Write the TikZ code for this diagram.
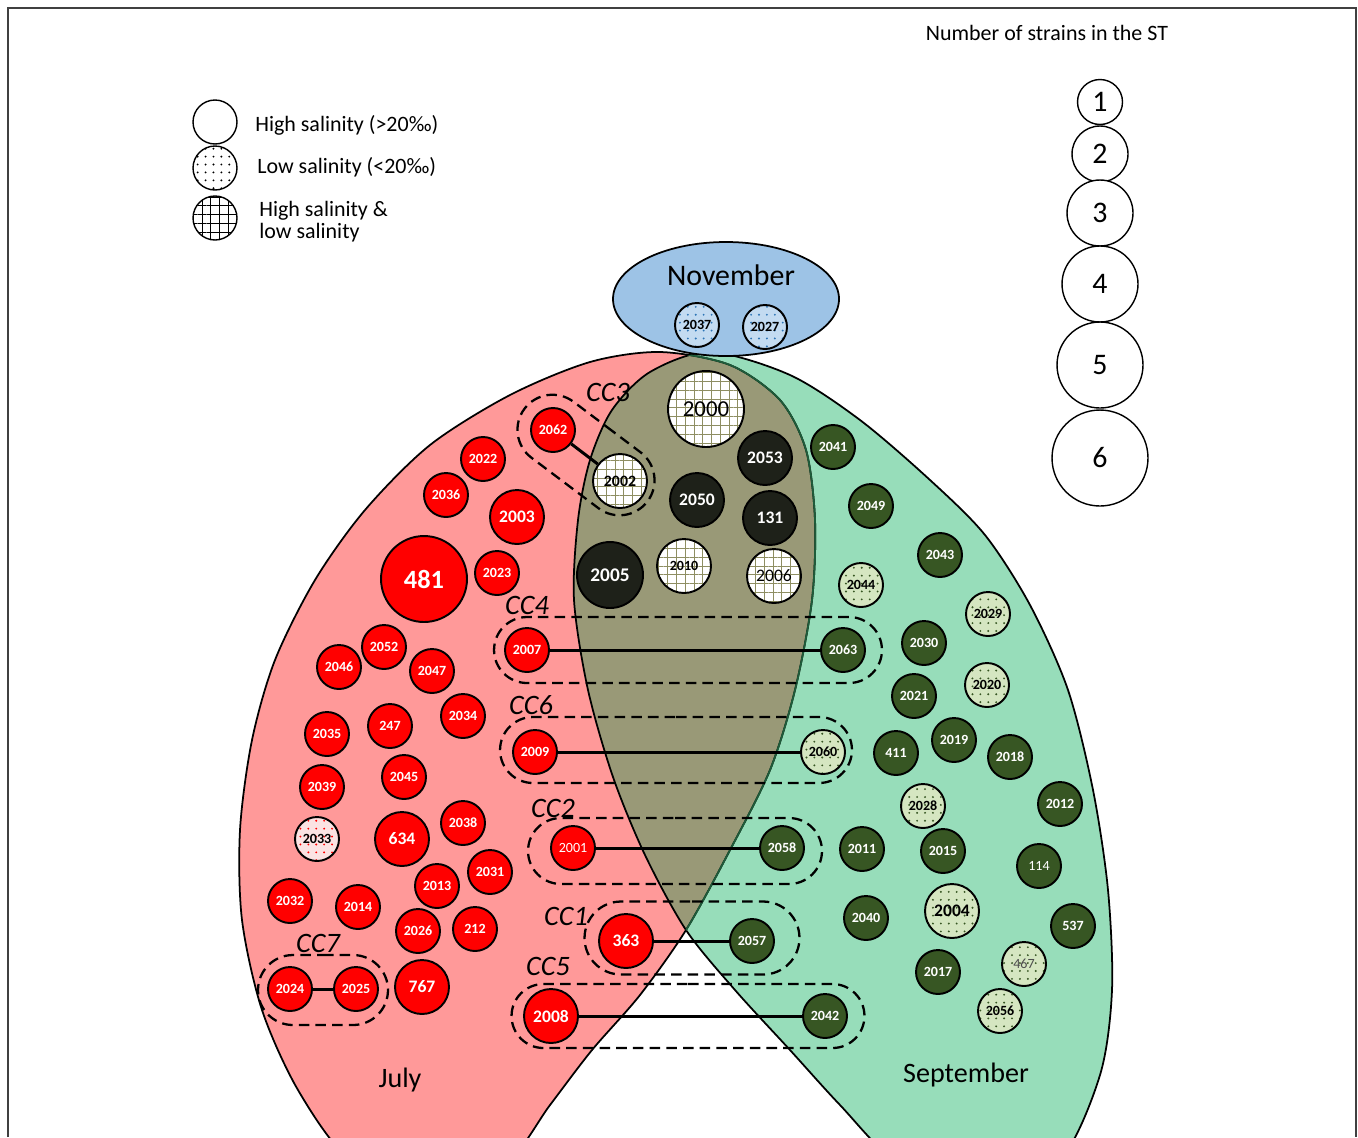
\documentclass[tikz,border=0pt]{standalone}
\usepackage{fontspec}
\setmainfont{Carlito}
\usetikzlibrary{patterns.meta,shapes.misc}

\definecolor{julyfill}{HTML}{FF9999}
\definecolor{septfill}{HTML}{97DDBA}
\definecolor{bothfill}{HTML}{999977}
\definecolor{novfill}{HTML}{9DC3E6}
\definecolor{julyred}{HTML}{FF0000}
\definecolor{septgreen}{HTML}{375623}
\definecolor{bothdark}{HTML}{1E2119}
\definecolor{septlight}{HTML}{D5E6C1}
\definecolor{novlight}{HTML}{C3DBF1}
\definecolor{novdots}{HTML}{2E75B6}
\definecolor{julylight}{HTML}{FBE3E3}
\definecolor{gridline}{HTML}{8E8E62}
\definecolor{edgegreen}{HTML}{1E5C3A}

\newcommand\fsz[1]{\fontsize{#1}{#1}\selectfont}

% outlines of the two month lobes (pixel coordinates)
\def\julyshape{plot[smooth cycle] coordinates {(660,352) (730,365) (780,400) (806,450) (815,520) (812,600) (795,690) (770,770) (730,850) (686,930) (640,995) (592,1050) (550,1105) (505,1165) (430,1195) (350,1160) (298,1090) (262,1010) (242,920) (240,830) (252,740) (275,660) (315,580) (365,510) (430,445) (510,395) (590,362)}}
\def\septshape{plot[smooth cycle] coordinates {(710,352) (790,375) (860,420) (930,480) (985,535) (1030,605) (1068,690) (1093,790) (1108,890) (1112,990) (1100,1075) (1060,1160) (985,1195) (900,1165) (840,1105) (790,1050) (735,990) (686,930) (645,855) (613,777) (588,690) (574,600) (578,520) (590,460) (612,410) (650,372)}}

\begin{document}
\begin{tikzpicture}[x=0.02cm,y=-0.02cm,
  st/.style={circle,draw,line width=1.1pt,inner sep=0pt,minimum size=0.88cm,font=\bfseries\fsz{8}},
  sz2/.style={minimum size=1.08cm,font=\bfseries\fsz{10}},
  sz3/.style={minimum size=1.32cm,font=\bfseries\fsz{11}},
  sz4/.style={minimum size=1.52cm,font=\fsz{13}},
  sz5/.style={minimum size=1.72cm,font=\bfseries\fsz{15}},
  jul/.style={st,fill=julyred,text=white},
  sep/.style={st,fill=septgreen,text=white},
  both/.style={st,fill=bothdark,text=white},
  mixgrid/.style={st,text=black,preaction={fill=white},pattern={Hatch[angle=0,distance=5pt,line width=0.5pt]},pattern color=gridline},
  sepdot/.style={st,text=black,preaction={fill=septlight},pattern={Dots[distance=4.5pt,radius=0.6pt]},pattern color=septgreen},
  juldot/.style={st,text=black,preaction={fill=julylight},pattern={Dots[distance=4.5pt,radius=0.6pt]},pattern color=julyred},
  novdot/.style={st,text=black,preaction={fill=novlight},pattern={Dots[distance=4.5pt,radius=0.6pt]},pattern color=novdots},
  legc/.style={circle,draw,line width=0.8pt,fill=white,inner sep=0pt,font=\fsz{17}},
  ccbox/.style={rounded rectangle,draw,dash pattern=on 6pt off 3.5pt,line width=1.3pt,inner sep=0pt,minimum height=1.32cm},
  cclab/.style={font=\itshape\fsz{16}},
  link/.style={line width=1.7pt},
  month/.style={font=\fsz{16}},
  legtxt/.style={anchor=west,align=left,inner sep=0pt,font=\fsz{12.5}}]

\fill[white] (0,0) rectangle (1358,1137);
\useasboundingbox (0,0) rectangle (1358,1137);
\draw[black!75,line width=1pt] (8,1137) -- (8,8) -- (1356,8) -- (1356,1137);

% lobes
\begin{scope}
  \clip (0,0) rectangle (1358,1137);
  \fill[julyfill] \julyshape;
  \fill[septfill] \septshape;
  \begin{scope}
    \clip \julyshape;
    \fill[bothfill] \septshape;
  \end{scope}
  \draw[line width=1pt] \septshape;
  \draw[line width=1pt] \julyshape;
  \begin{scope}
    \clip \septshape;
    \draw[edgegreen,line width=1pt] \julyshape;
  \end{scope}
\end{scope}

\draw[line width=1pt,fill=novfill] (726,299) ellipse [x radius=113,y radius=57];
\node[font=\fsz{17}] (nov) at (731,275) {November};
\node[month] (jul) at (400,1080) {July};
\node[month] (sep) at (966,1075) {September};

% clonal complexes
\node[ccbox,minimum width=3.08cm,minimum height=1.4cm,rotate=-37] (cc3box) at (586,455) {};
\node[ccbox,minimum width=7.76cm] (cc4box) at (688,650) {};
\node[ccbox,minimum width=7.04cm] (cc6box) at (676,750) {};
\node[ccbox,minimum width=5.88cm] (cc2box) at (675,851) {};
\node[ccbox,minimum width=4.3cm,minimum height=1.46cm] (cc1box) at (692,938) {};
\node[ccbox,minimum width=7.06cm,minimum height=1.28cm] (cc5box) at (688,1016) {};
\node[ccbox,minimum width=2.6cm,minimum height=1.4cm] (cc7box) at (323,990) {};
\node[cclab] (cc3lab) at (608,392) {CC3};
\node[cclab] (cc4lab) at (527,605) {CC4};
\node[cclab] (cc6lab) at (531,705) {CC6};
\node[cclab] (cc2lab) at (553,808) {CC2};
\node[cclab] (cc1lab) at (566,916) {CC1};
\node[cclab] (cc5lab) at (548,966) {CC5};
\node[cclab] (cc7lab) at (318,943) {CC7};

% July
\node[jul] (st2062) at (553,430) {2062};
\node[jul] (st2022) at (483,459) {2022};
\node[jul] (st2036) at (446,495) {2036};
\node[jul,sz2] (st2003) at (517,517) {2003};
\node[jul] (st2023) at (497,573) {2023};
\node[jul,sz5] (st481) at (424,579) {481};
\node[jul] (st2052) at (384,647) {2052};
\node[jul] (st2046) at (339,667) {2046};
\node[jul] (st2047) at (432,671) {2047};
\node[jul] (st2034) at (463,716) {2034};
\node[jul] (st2035) at (327,734) {2035};
\node[jul] (st247) at (390,726) {247};
\node[jul] (st2045) at (404,777) {2045};
\node[jul] (st2039) at (322,787) {2039};
\node[juldot] (st2033) at (317,839) {2033};
\node[jul,sz2] (st634) at (402,839) {634};
\node[jul] (st2038) at (463,823) {2038};
\node[jul] (st2031) at (490,872) {2031};
\node[jul] (st2013) at (437,886) {2013};
\node[jul] (st2032) at (290,901) {2032};
\node[jul] (st2014) at (358,907) {2014};
\node[jul] (st2026) at (418,931) {2026};
\node[jul] (st212) at (475,929) {212};
\node[jul] (st2024) at (290,989) {2024};
\node[jul] (st2025) at (356,989) {2025};
\node[jul,sz2] (st767) at (422,987) {767};
\node[jul] (st2007) at (527,650) {2007};
\node[jul] (st2009) at (535,752) {2009};
\node[jul,font=\fsz{8}] (st2001) at (573,848) {2001};
\node[jul,sz2] (st363) at (626,941) {363};
\node[jul,sz2] (st2008) at (551,1016) {2008};

% July and September
\node[mixgrid,sz4] (st2000) at (706,409) {2000};
\node[mixgrid,sz2,font=\bfseries\fsz{9}] (st2002) at (620,481) {2002};
\node[both,sz2] (st2053) at (765,458) {2053};
\node[both,sz2] (st2050) at (697,500) {2050};
\node[both,sz2] (st131) at (770,518) {131};
\node[both,sz3] (st2005) at (610,575) {2005};
\node[mixgrid,sz2,font=\bfseries\fsz{8}] (st2010) at (684,566) {2010};
\node[mixgrid,sz2,font=\fsz{10}] (st2006) at (774,576) {2006};

% September
\node[sep] (st2041) at (833,447) {2041};
\node[sep] (st2049) at (871,506) {2049};
\node[sep] (st2043) at (940,555) {2043};
\node[sepdot] (st2044) at (861,585) {2044};
\node[sepdot] (st2029) at (988,614) {2029};
\node[sep] (st2030) at (924,643) {2030};
\node[sep] (st2063) at (843,650) {2063};
\node[sep] (st2021) at (914,696) {2021};
\node[sepdot] (st2020) at (987,685) {2020};
\node[sep] (st2019) at (954,740) {2019};
\node[sep] (st411) at (896,753) {411};
\node[sep] (st2018) at (1010,757) {2018};
\node[sepdot] (st2060) at (823,752) {2060};
\node[sepdot] (st2028) at (923,806) {2028};
\node[sep] (st2012) at (1060,804) {2012};
\node[sep] (st2011) at (862,849) {2011};
\node[sep] (st2015) at (943,851) {2015};
\node[sep] (st2058) at (782,848) {2058};
\node[sep,font=\fsz{8}] (st114) at (1039,866) {114};
\node[sep] (st2040) at (866,918) {2040};
\node[sepdot,sz2] (st2004) at (952,911) {2004};
\node[sep] (st537) at (1073,926) {537};
\node[sep] (st2057) at (752,941) {2057};
\node[sep] (st2017) at (938,972) {2017};
\node[sepdot,text=black!70,font=\fsz{8}] (st467) at (1024,964) {467};
\node[sep] (st2042) at (825,1016) {2042};
\node[sepdot] (st2056) at (1000,1011) {2056};

% November
\node[novdot] (st2037) at (697,325) {2037};
\node[novdot] (st2027) at (765,327) {2027};

% links inside clonal complexes
\draw[link] (st2062) -- (st2002);
\draw[link] (st2007) -- (st2063);
\draw[link] (st2009) -- (st2060);
\draw[link] (st2001) -- (st2058);
\draw[link] (st363) -- (st2057);
\draw[link] (st2008) -- (st2042);
\draw[link] (st2024) -- (st2025);

% salinity legend
\node[legc,minimum size=0.88cm] (leghigh) at (215,122) {};
\node[legc,minimum size=0.88cm,preaction={fill=white},pattern={Dots[distance=4.5pt,radius=0.6pt]},pattern color=black] (leglow) at (215,168) {};
\node[legc,minimum size=0.88cm,preaction={fill=white},pattern={Hatch[angle=0,distance=5pt,line width=0.6pt]},pattern color=black] (legboth) at (215,218) {};
\node[legtxt] (leghightxt) at (255,125) {High salinity (>20‰)};
\node[legtxt] (leglowtxt) at (257,167) {Low salinity (<20‰)};
\node[legtxt] (legbothtxt) at (259,222) {High salinity \&\\low salinity};

% size legend
\node[font=\fsz{12.5}] (sizetitle) at (1047,33) {Number of strains in the ST};
\node[legc,minimum size=0.9cm] (n1) at (1100,102) {1};
\node[legc,minimum size=1.12cm] (n2) at (1100,154) {2};
\node[legc,minimum size=1.32cm] (n3) at (1100,213) {3};
\node[legc,minimum size=1.52cm] (n4) at (1100,284) {4};
\node[legc,minimum size=1.72cm] (n5) at (1100,365) {5};
\node[legc,minimum size=1.92cm] (n6) at (1100,458) {6};
\end{tikzpicture}
\end{document}
